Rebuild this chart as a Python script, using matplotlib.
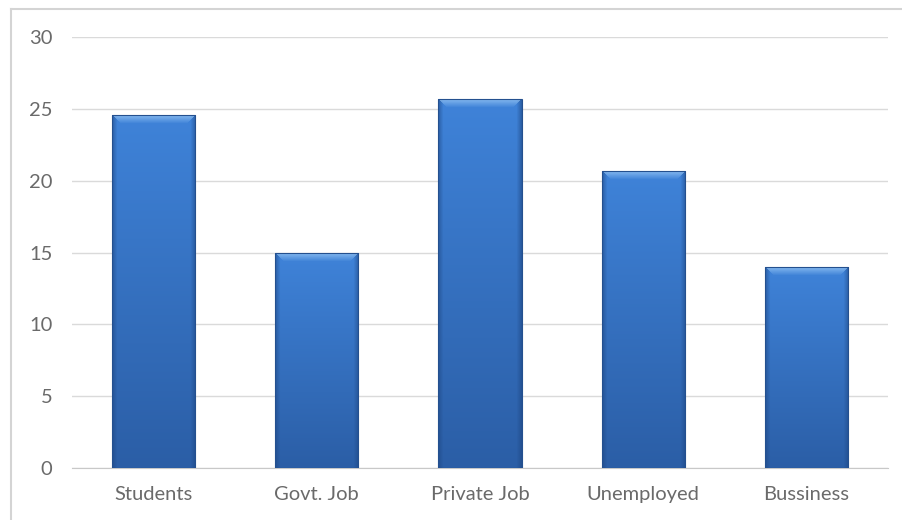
import numpy as np
import matplotlib.pyplot as plt
from matplotlib.lines import Line2D
from matplotlib.colors import to_rgb

categories = ['Students', 'Govt. Job', 'Private Job', 'Unemployed', 'Bussiness']
values = [24.6, 15, 25.7, 20.7, 14]
yticks = [0, 5, 10, 15, 20, 25, 30]

plt.rcParams['font.family'] = ['Lato', 'DejaVu Sans']
fig = plt.figure(figsize=(9.03, 5.2), dpi=100)
ax = fig.add_axes([72 / 903, 52 / 520, 816 / 903, 431 / 520])

x = np.arange(len(categories))
bars = ax.bar(x, values, width=0.51, color='#3b7dd2', zorder=2)

ax.set_xlim(-0.5, len(categories) - 0.5)
ax.set_ylim(0, 30)
ax.set_yticks(yticks)
ax.set_xticks(x, categories)
ax.grid(axis='y', color='#dadada', linewidth=1, zorder=0)
for s in ['top', 'right', 'left']:
    ax.spines[s].set_visible(False)
ax.spines['bottom'].set_color('#c8c8c8')
ax.tick_params(length=0, labelsize=14.5, labelcolor='#6a6a6a')
ax.tick_params(axis='x', pad=13)
ax.tick_params(axis='y', pad=14)

# shaded fill for the bars: darker rims, light bevel along the top
fig.canvas.draw()
px_per_unit = ax.transData.transform((0, 1))[1] - ax.transData.transform((0, 0))[1]
base = np.array(to_rgb('#3f83d9'))
bottom_col = np.array(to_rgb('#2b5ea6'))
light = np.array(to_rgb('#9ccaf6'))
rim = np.array(to_rgb('#1d4580'))
for b in bars:
    w_px = 83
    h_px = max(int(round(b.get_height() * px_per_unit)), 2)
    t = np.linspace(0, 1, h_px)[:, None, None]
    img = base * (1 - t) + bottom_col * t
    img = np.repeat(img, w_px, axis=1)
    # side rims
    u = np.linspace(0, 1, w_px)
    side = np.clip(1 - np.minimum(u, 1 - u) / 0.06, 0, 1)[None, :, None]
    img = img * (1 - 0.55 * side) + rim * 0.55 * side
    # top bevel
    bev = 9
    for i in range(min(bev, h_px)):
        a = 0.8 * (1 - i / bev)
        inset = int(round(i * 1.0))
        img[i, inset:w_px - inset] = img[i, inset:w_px - inset] * (1 - a) + light * a
    img[0, :] = rim * 0.6 + img[0, :] * 0.4
    x0, y0 = b.get_x(), b.get_y()
    im = ax.imshow(np.clip(img, 0, 1), extent=(x0, x0 + b.get_width(), y0, y0 + b.get_height()),
                   aspect='auto', zorder=3, interpolation='bilinear')
    im.set_clip_path(b)
    b.set_edgecolor('#24508f')
    b.set_linewidth(0.8)
    b.set_zorder(4)
    b.set_facecolor('none')

ax.set_xlim(-0.5, len(categories) - 0.5)
ax.set_ylim(0, 30)

# chart area frame
fx = 11 / 903
fy = 1 - 9 / 520
fig.add_artist(Line2D([fx, 1], [fy, fy], color='#d4d4d4', linewidth=1.5, transform=fig.transFigure))
fig.add_artist(Line2D([fx, fx], [0, fy], color='#d4d4d4', linewidth=1.5, transform=fig.transFigure))

fig.savefig('out.png', dpi=100)
